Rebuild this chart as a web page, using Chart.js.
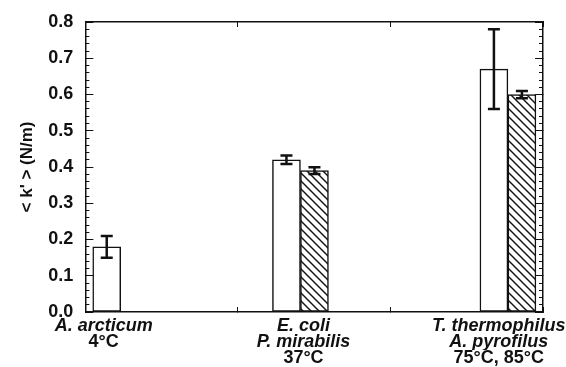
<!DOCTYPE html>
<html>
<head>
<meta charset="utf-8">
<script src="https://cdn.jsdelivr.net/npm/chart.js@4/dist/chart.umd.min.js"></script>
<style>
  html, body { margin: 0; padding: 0; background: #fff; }
</style>
</head>
<body>
<canvas id="kChart" width="566" height="367"></canvas>
<script>
// organisms / temperatures, one line of the label each
const nameLine1 = ['A. arcticum', 'E. coli', 'T. thermophilus'];
const nameLine2 = ['4°C', 'P. mirabilis', 'A. pyrofilus'];
const nameLine3 = ['', '37°C', '75°C, 85°C'];

// x position of each group (axis runs 0..3) and of its label
const groupPos = [0.14, 1.41, 2.77];
const labelPos = [0.12, 1.43, 2.71];

// <k'> values and error bars
const plainK = [0.18, 0.42, 0.67];
const plainErr = [0.03, 0.012, 0.11];
const hatchK = [null, 0.39, 0.60];
const hatchErr = [null, 0.009, 0.01];

const yMin = 0, yMax = 0.8, yMajor = 0.1, yMinor = 0.02;

const FONT = 'Liberation Sans, Arial, Helvetica, sans-serif';
const INK = '#111';

const canvas = document.getElementById('kChart');
const ctx = canvas.getContext('2d');

function makeHatch() {
  const c = document.createElement('canvas');
  c.width = 8; c.height = 8;
  const g = c.getContext('2d');
  g.fillStyle = '#fff';
  g.fillRect(0, 0, 8, 8);
  g.strokeStyle = INK;
  g.lineWidth = 1.4;
  g.beginPath();
  g.moveTo(-1, -1); g.lineTo(9, 9);
  g.moveTo(-1, 7); g.lineTo(1, 9);
  g.moveTo(7, -1); g.lineTo(9, 1);
  g.stroke();
  return ctx.createPattern(c, 'repeat');
}

const errorBars = {
  id: 'errorBars',
  afterDatasetsDraw(chart) {
    const c = chart.ctx;
    const y = chart.scales.y;
    c.save();
    c.strokeStyle = INK;
    c.lineWidth = 2.5;
    chart.data.datasets.forEach((ds, di) => {
      chart.getDatasetMeta(di).data.forEach((bar, i) => {
        const v = ds.data[i].y, e = ds.errors[i];
        if (v == null || e == null) return;
        const top = y.getPixelForValue(v + e), bot = y.getPixelForValue(v - e);
        c.beginPath();
        c.moveTo(bar.x, top); c.lineTo(bar.x, bot);
        c.moveTo(bar.x - 6, top); c.lineTo(bar.x + 6, top);
        c.moveTo(bar.x - 6, bot); c.lineTo(bar.x + 6, bot);
        c.stroke();
      });
    });
    c.restore();
  }
};

const zeroHeight = s => { s.height = 0; };
const zeroWidth = s => { s.width = 0; };

function frameAxis(position, stepSize, tickLength, extra) {
  const vertical = position === 'left' || position === 'right';
  return Object.assign({
    type: 'linear',
    position,
    min: vertical ? yMin : 0,
    max: vertical ? yMax : 3,
    offset: false,
    ticks: { display: false, stepSize },
    grid: { offset: false, drawOnChartArea: false, drawTicks: true, tickLength: -tickLength, color: INK, tickWidth: 1 },
    border: { display: true, color: INK, width: 1.5 },
    afterFit: vertical ? zeroWidth : zeroHeight
  }, extra || {});
}

function labelAxis(lines, weight, padding, height) {
  return {
    type: 'linear',
    position: 'bottom',
    weight,
    min: 0,
    max: 3,
    offset: false,
    grid: { display: false, drawTicks: false },
    border: { display: false },
    afterBuildTicks: s => { s.ticks = labelPos.map(v => ({ value: v })); },
    afterFit: s => { s.paddingLeft = 0; s.paddingRight = 0; s.height = height; },
    ticks: {
      autoSkip: false,
      maxRotation: 0,
      minRotation: 0,
      padding,
      color: INK,
      callback: (v, i) => lines[i],
      font: c => ({
        family: FONT, size: 18, weight: 'bold', lineHeight: '16px',
        style: String(lines[c.index] || '').includes('°') ? 'normal' : 'italic'
      })
    }
  };
}

new Chart(ctx, {
  type: 'bar',
  data: {
    datasets: [{
      data: groupPos.map((x, i) => ({ x, y: plainK[i] })),
      errors: plainErr,
      backgroundColor: '#fff',
      borderColor: INK,
      borderWidth: 1.5,
      borderSkipped: false
    }, {
      data: groupPos.map((x, i) => ({ x, y: hatchK[i] })),
      errors: hatchErr,
      backgroundColor: makeHatch(),
      borderColor: INK,
      borderWidth: 1.5,
      borderSkipped: false
    }]
  },
  options: {
    responsive: false,
    animation: false,
    devicePixelRatio: 1,
    skipNull: true,
    barThickness: 28,
    layout: { padding: { left: 20, right: 23, top: 22, bottom: 1 } },
    plugins: { legend: { display: false }, tooltip: { enabled: false } },
    scales: {
      x: frameAxis('bottom', 1, 5, { weight: 0 }),
      xTop: frameAxis('top', 1, 5),
      y: {
        type: 'linear',
        position: 'left',
        weight: 1,
        min: yMin,
        max: yMax,
        afterFit: s => { s.paddingTop = 0; s.paddingBottom = 0; },
        ticks: {
          stepSize: yMajor,
          padding: 20,
          color: INK,
          font: { family: FONT, size: 18, weight: 'bold' },
          callback: v => v.toFixed(1)
        },
        grid: { drawOnChartArea: false, tickLength: -8, color: INK, tickWidth: 1 },
        border: { display: true, color: INK, width: 1.5 },
        title: {
          display: true,
          text: "< k' > (N/m)",
          color: INK,
          font: { family: FONT, size: 17, weight: 'bold', lineHeight: 1 },
          padding: { top: -1, bottom: 20 }
        }
      },
      yMinorL: frameAxis('left', yMinor, 4, { weight: 0, border: { display: false } }),
      yRight: frameAxis('right', yMajor, 8),
      yMinorR: frameAxis('right', yMinor, 4, { border: { display: false } }),
      xName1: labelAxis(nameLine1, 1, 6, 22),
      xName2: labelAxis(nameLine2, 2, 0, 16),
      xName3: labelAxis(nameLine3, 3, 0, 16)
    }
  },
  plugins: [errorBars]
});
</script>
</body>
</html>
